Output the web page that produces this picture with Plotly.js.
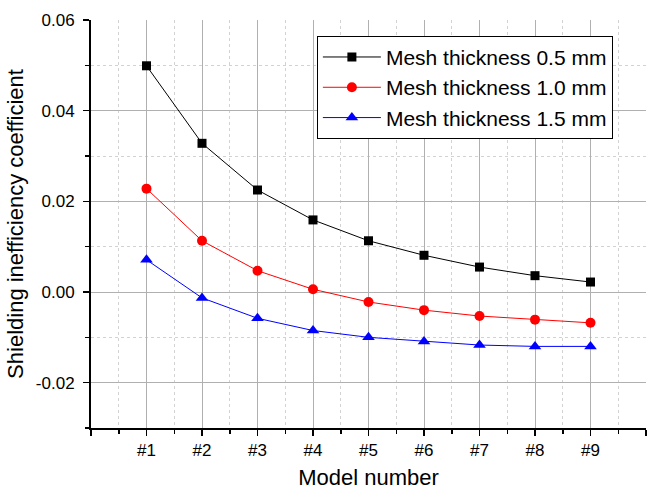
<!DOCTYPE html>
<html>
<head>
<meta charset="utf-8">
<script src="https://cdn.plot.ly/plotly-3.0.1.min.js"></script>
<style>
  html, body { margin: 0; padding: 0; background: #fff; }
  #chart { width: 648px; height: 492px; }
</style>
</head>
<body>
<div id="chart"></div>
<script>
// Model numbers along the x axis (positions 1..9)
const models = ['#1', '#2', '#3', '#4', '#5', '#6', '#7', '#8', '#9'];
const modelPos = [1, 2, 3, 4, 5, 6, 7, 8, 9];

// Shielding inefficiency coefficient for each mesh thickness
const mesh05 = [0.0499, 0.0328, 0.0225, 0.0159, 0.0113, 0.0081, 0.0055, 0.0036, 0.0022];
const mesh10 = [0.0228, 0.0113, 0.0047, 0.0006, -0.0022, -0.0040, -0.0053, -0.0061, -0.0068];
const mesh15 = [0.0071, -0.0013, -0.0058, -0.0085, -0.0100, -0.0109, -0.0117, -0.0120, -0.0120];

const seriesNames = ['Mesh thickness 0.5 mm', 'Mesh thickness 1.0 mm', 'Mesh thickness 1.5 mm'];

// Y tick values and labels (plain hyphen minus)
const yTicks = [-0.02, 0.00, 0.02, 0.04, 0.06];
const yTickText = yTicks.map(v => v.toFixed(2));

// X ticks: framing ticks at 0 and 10 carry no label
const xTicks = [0].concat(modelPos, [10]);
const xTickText = [''].concat(models, ['']);

const FONT = 'Liberation Sans, Arial, sans-serif';

const traces = [
  { y: mesh05, name: seriesNames[0], color: '#000000', symbol: 'square', size: 9 },
  { y: mesh10, name: seriesNames[1], color: '#ff0000', symbol: 'circle', size: 10 },
  { y: mesh15, name: seriesNames[2], color: '#0000ff', symbol: 'triangle-up', size: 11 }
].map(s => ({
  x: modelPos,
  y: s.y,
  name: s.name,
  type: 'scatter',
  mode: 'lines+markers',
  line: { color: s.color, width: 1 },
  marker: { color: s.color, symbol: s.symbol, size: s.size, line: { width: 0 } }
}));

const gridMajor = '#b0b0b0';
const gridMinor = '#d2d2d2';

const layout = {
  width: 648,
  height: 492,
  margin: { l: 91, r: 2, t: 20, b: 64 },
  paper_bgcolor: '#ffffff',
  plot_bgcolor: '#ffffff',
  font: { family: FONT, color: '#000000' },
  showlegend: true,
  legend: {
    x: 0.407, y: 0.835, xanchor: 'left', yanchor: 'middle',
    bgcolor: '#ffffff', bordercolor: '#000000', borderwidth: 1,
    font: { family: FONT, size: 21, color: '#000000' },
    itemwidth: 58,
    tracegroupgap: 0
  },
  xaxis: {
    range: [0, 10],
    tickmode: 'array',
    tickvals: xTicks,
    ticktext: xTickText,
    ticks: 'outside', ticklen: 6, tickwidth: 1.5, tickcolor: '#000000',
    showline: true, linecolor: '#000000', linewidth: 2,
    showgrid: true, gridcolor: gridMajor, gridwidth: 1,
    zeroline: false,
    tickfont: { family: FONT, size: 17, color: '#000000' },
    minor: {
      tickmode: 'array',
      tickvals: [0.5, 1.5, 2.5, 3.5, 4.5, 5.5, 6.5, 7.5, 8.5, 9.5],
      ticks: 'outside', ticklen: 4, tickwidth: 1.5, tickcolor: '#000000',
      showgrid: true, gridcolor: gridMinor, griddash: 'dot', gridwidth: 1
    },
    title: { text: 'Model number', font: { family: FONT, size: 22, color: '#000000' }, standoff: 10 }
  },
  yaxis: {
    range: [-0.03, 0.06],
    tickmode: 'array',
    tickvals: yTicks,
    ticktext: yTickText,
    ticks: 'outside', ticklen: 6, tickwidth: 1.5, tickcolor: '#000000',
    ticklabelstandoff: 5,
    showline: true, linecolor: '#000000', linewidth: 2,
    showgrid: true, gridcolor: gridMajor, gridwidth: 1,
    zeroline: false,
    tickfont: { family: FONT, size: 17, color: '#000000' },
    minor: {
      tickmode: 'array',
      tickvals: [-0.03, -0.01, 0.01, 0.03, 0.05],
      ticks: 'outside', ticklen: 4, tickwidth: 1.5, tickcolor: '#000000',
      showgrid: true, gridcolor: gridMinor, griddash: 'dot', gridwidth: 1
    },
    title: { text: 'Shielding inefficiency coefficient', font: { family: FONT, size: 22, color: '#000000' }, standoff: 6 }
  }
};

Plotly.newPlot('chart', traces, layout, { displayModeBar: false, staticPlot: true });
</script>
</body>
</html>
